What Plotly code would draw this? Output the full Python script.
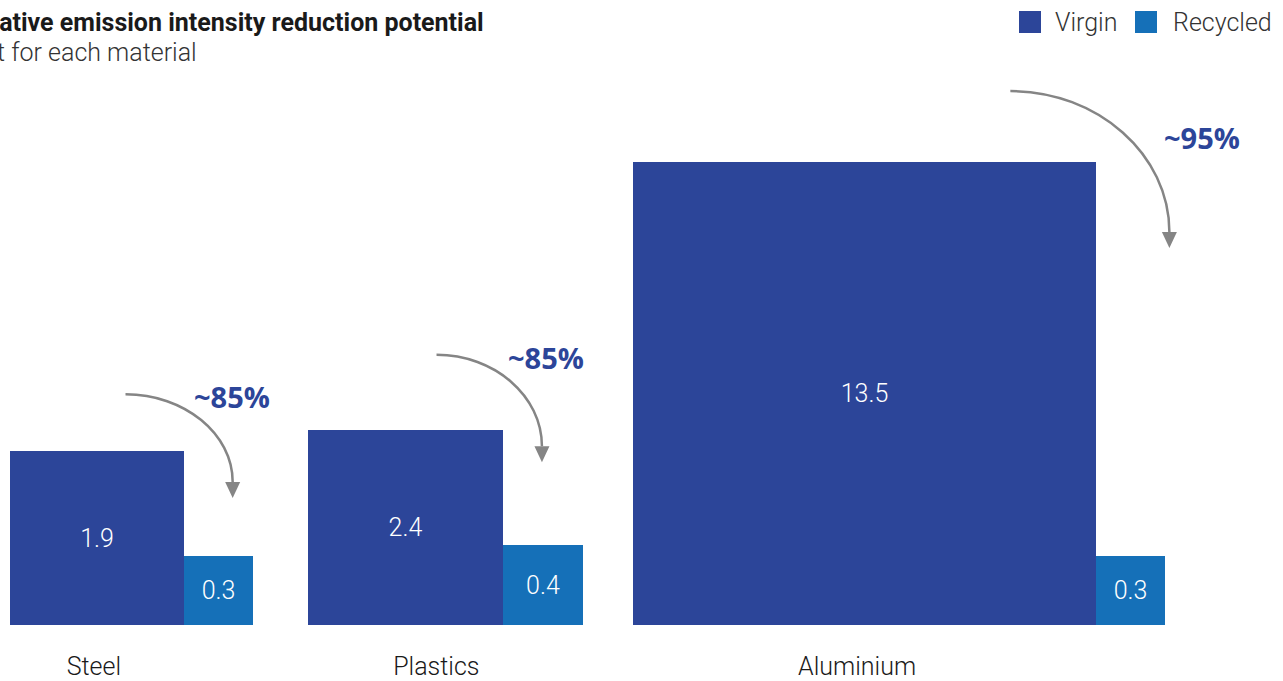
import plotly.graph_objects as go

# ---- data -------------------------------------------------------------
materials = ["Steel", "Plastics", "Aluminium"]
virgin = [1.9, 2.4, 13.5]
recycled = [0.3, 0.4, 0.3]
reduction = ["~85%", "~85%", "~95%"]

VIRGIN_COLOR = "#2C4599"
RECYCLED_COLOR = "#1570B8"
ARROW_COLOR = "#858585"

# ---- geometry: squares whose area is proportional to the value ----------
W, H = 1283, 681
BASE_PX = 625           # baseline, pixels from top
K = 126.0               # pixels per sqrt-unit (same on both axes)
LEFT0_PX = 10
GAPS_PX = [55, 50, 0]   # white space after each material group

def to_x(px):
    return px / K

def to_y(py):
    return (BASE_PX - py) / K

v_side = [v ** 0.5 for v in virgin]
r_side = [r ** 0.5 for r in recycled]

v_left, r_left = [], []
cursor = to_x(LEFT0_PX)
for vs, rs, gap in zip(v_side, r_side, GAPS_PX):
    v_left.append(cursor)
    r_left.append(cursor + vs)
    cursor += vs + rs + to_x(gap)

v_center = [l + s / 2 for l, s in zip(v_left, v_side)]
r_center = [l + s / 2 for l, s in zip(r_left, r_side)]

# arrow placement (pixels): start frac on virgin bar, lift above it,
# end frac on recycled bar, lift above it, label offset from arrow start
ARROWS = [
    dict(sf=0.665, sl=57, ef=0.71, el=58, lx=66, ly=2),
    dict(sf=0.66, sl=75, ef=0.49, el=83, lx=69, ly=3),
    dict(sf=0.816, sl=71, ef=1.07, el=308, lx=152, ly=46),
]
LABEL_NUDGE_PX = [-3, 31, -7]   # category label offset from virgin bar centre

LIGHT = dict(family="Roboto", weight=300)

fig = go.Figure()

for name, centers, sides, vals, color in [
    ("Virgin", v_center, v_side, virgin, VIRGIN_COLOR),
    ("Recycled", r_center, r_side, recycled, RECYCLED_COLOR),
]:
    fig.add_trace(
        go.Bar(
            x=centers,
            y=sides,
            width=sides,
            name=name,
            marker=dict(color=color, line=dict(width=0)),
            text=[f"{v:g}" for v in vals],
            textposition="inside",
            insidetextanchor="middle",
            textangle=0,
            textfont=dict(size=25, color="white", **LIGHT),
            hoverinfo="skip",
            showlegend=False,
        )
    )

shapes = []
annotations = []

# curved arrows + percentage labels
for i, a in enumerate(ARROWS):
    v_top_px = BASE_PX - v_side[i] * K
    r_top_px = BASE_PX - r_side[i] * K
    sx = v_left[i] * K + a["sf"] * v_side[i] * K
    sy = v_top_px - a["sl"]
    tx = r_left[i] * K + a["ef"] * r_side[i] * K
    ty = r_top_px - a["el"]
    head = 16
    by = ty - head
    c1 = (sx + 0.55 * (tx - sx), sy)
    c2 = (tx, by - 0.55 * (by - sy))
    path = (
        f"M {to_x(sx)},{to_y(sy)} "
        f"C {to_x(c1[0])},{to_y(c1[1])} {to_x(c2[0])},{to_y(c2[1])} {to_x(tx)},{to_y(by)}"
    )
    shapes.append(dict(type="path", path=path, xref="x", yref="y",
                       line=dict(color=ARROW_COLOR, width=2.5)))
    tri = (
        f"M {to_x(tx - 7.5)},{to_y(by)} L {to_x(tx + 7.5)},{to_y(by)} "
        f"L {to_x(tx)},{to_y(ty)} Z"
    )
    shapes.append(dict(type="path", path=tri, xref="x", yref="y",
                       fillcolor=ARROW_COLOR, line=dict(width=0)))
    annotations.append(dict(
        x=to_x(sx + a["lx"]), y=to_y(sy + a["ly"]), xref="x", yref="y",
        text=f"<b>{reduction[i]}</b>", showarrow=False,
        xanchor="left", yanchor="middle",
        font=dict(family="Open Sans", size=29, color=VIRGIN_COLOR),
    ))

# title (cropped at the left edge like the source)
annotations.append(dict(
    x=486 / W, y=(BASE_PX - 22) / BASE_PX, xref="paper", yref="paper",
    text="<b>Relative emission intensity reduction potential</b>",
    showarrow=False, xanchor="right", yanchor="middle",
    font=dict(family="Roboto", size=25, color="#1a1a1a"),
))
annotations.append(dict(
    x=199 / W, y=(BASE_PX - 53) / BASE_PX, xref="paper", yref="paper",
    text="tCO₂e/t for each material",
    showarrow=False, xanchor="right", yanchor="middle",
    font=dict(size=25, color="#333333", **LIGHT),
))

# legend drawn by hand (large square swatches)
for name, color, sq_left, txt_left in [
    ("Virgin", VIRGIN_COLOR, 1019, 1053),
    ("Recycled", RECYCLED_COLOR, 1135, 1171),
]:
    shapes.append(dict(
        type="rect", xref="paper", yref="paper",
        x0=sq_left / W, x1=(sq_left + 22) / W,
        y0=(BASE_PX - 33) / BASE_PX, y1=(BASE_PX - 11) / BASE_PX,
        fillcolor=color, line=dict(width=0),
    ))
    annotations.append(dict(
        x=txt_left / W, y=(BASE_PX - 22) / BASE_PX, xref="paper", yref="paper",
        text=name, showarrow=False, xanchor="left", yanchor="middle",
        font=dict(size=25, color="#333333", **LIGHT),
    ))

fig.update_layout(
    width=W,
    height=H,
    margin=dict(l=0, r=0, t=0, b=H - BASE_PX, autoexpand=False),
    paper_bgcolor="white",
    plot_bgcolor="white",
    barmode="overlay",
    bargap=0,
    shapes=shapes,
    annotations=annotations,
    showlegend=False,
)
fig.update_xaxes(
    range=[0, to_x(W)],
    showgrid=False, zeroline=False, showline=False,
    tickmode="array",
    tickvals=[c + to_x(n) for c, n in zip(v_center, LABEL_NUDGE_PX)],
    ticktext=materials,
    ticks="outside", ticklen=19, tickcolor="rgba(0,0,0,0)",
    tickfont=dict(size=25, color="#1a1a1a", **LIGHT),
    fixedrange=True,
)
fig.update_yaxes(
    range=[0, BASE_PX / K],
    showgrid=False, zeroline=False, showline=False, showticklabels=False,
    fixedrange=True,
)

fig.write_html(
    "out.html",
    config={"displayModeBar": False},
    post_script="document.body.style.margin='0';",
)
